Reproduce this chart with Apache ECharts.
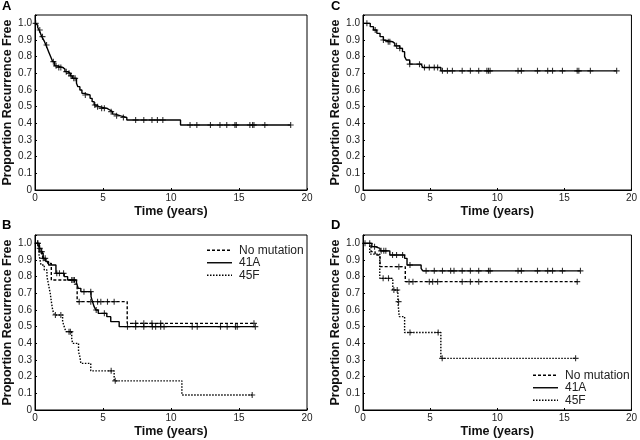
<!DOCTYPE html>
<html>
<head>
<meta charset="utf-8">
<script src="https://cdn.jsdelivr.net/npm/echarts@6/dist/echarts.min.js"></script>
<style>
  html, body { margin: 0; padding: 0; background: #fff; }
  #chart { width: 640px; height: 440px; }
</style>
</head>
<body>
<div id="chart"></div>
<script>
// Panel A - all patients
const aTime = [0, 0.1, 0.2, 0.3, 0.4, 0.5, 0.6, 0.7, 0.8, 0.9, 1.0, 1.1, 1.2, 1.3, 1.45, 1.6, 2.05, 2.2, 2.4, 2.6, 2.75, 3.05, 3.15, 3.3, 3.45, 3.6, 4.05, 4.2, 4.35, 4.5, 4.7, 5.3, 5.5, 5.7, 5.9, 6.3, 6.75, 10.7, 18.8]
const aSurv = [1.0, 0.99, 0.975, 0.96, 0.94, 0.92, 0.905, 0.89, 0.87, 0.85, 0.83, 0.81, 0.79, 0.77, 0.745, 0.735, 0.725, 0.71, 0.70, 0.685, 0.67, 0.64, 0.62, 0.60, 0.58, 0.57, 0.55, 0.53, 0.51, 0.50, 0.49, 0.48, 0.47, 0.455, 0.445, 0.435, 0.42, 0.39, 0.39]
const aCens = [0.05, 0.35, 0.55, 0.85, 1.35, 1.55, 1.75, 1.9, 2.3, 2.5, 2.65, 2.85, 2.95, 3.7, 4.4, 4.6, 4.9, 5.1, 5.6, 6.0, 6.5, 7.4, 8.0, 8.6, 9.0, 9.4, 11.4, 11.9, 12.9, 13.6, 14.1, 14.7, 14.8, 15.8, 16.0, 16.1, 16.9, 18.8]

// Panel C
const cTime = [0, 0.54, 0.78, 1.03, 1.27, 1.52, 1.64, 2.2, 2.37, 2.74, 2.94, 3.1, 3.23, 3.48, 4.33, 4.45, 5.8, 18.9]
const cSurv = [1.0, 0.98, 0.96, 0.94, 0.92, 0.90, 0.89, 0.88, 0.865, 0.85, 0.83, 0.80, 0.78, 0.755, 0.745, 0.735, 0.715, 0.715]
const cCens = [0.29, 0.91, 1.52, 1.88, 2.0, 2.5, 2.74, 3.48, 4.21, 4.58, 4.94, 5.31, 5.56, 5.92, 6.29, 6.66, 7.39, 8.0, 8.62, 9.23, 9.35, 9.47, 11.55, 11.8, 13.0, 13.76, 14.12, 14.86, 15.96, 16.08, 16.94, 18.9]

// Panel B - by genotype
const bNoTime = [0, 0.3, 0.56, 0.93, 1.2, 2.9, 3.1, 6.78, 16.1]
const bNoSurv = [1.0, 0.95, 0.90, 0.88, 0.78, 0.755, 0.65, 0.52, 0.52]
const bNoCens = [0.2, 0.5, 3.25, 4.1, 4.6, 4.84, 5.33, 5.82, 7.4, 8.0, 8.6, 9.24, 16.1]

const b41Time = [0, 0.3, 0.45, 0.6, 0.8, 1.0, 1.54, 2.15, 2.4, 3.05, 3.18, 3.37, 4.12, 4.23, 4.35, 4.47, 4.65, 5.28, 5.57, 6.19, 16.2]
const b41Surv = [1.0, 0.97, 0.94, 0.91, 0.89, 0.87, 0.82, 0.80, 0.78, 0.76, 0.73, 0.71, 0.68, 0.65, 0.62, 0.60, 0.58, 0.56, 0.53, 0.50, 0.50]
const b41Cens = [0.35, 0.6, 0.75, 1.6, 1.8, 2.1, 2.7, 2.8, 2.9, 3.6, 4.1, 4.5, 5.1, 6.8, 7.4, 8.0, 8.63, 8.87, 9.24, 9.49, 11.56, 11.93, 13.64, 14.13, 14.74, 14.87, 16.2]

const b45Time = [0, 0.3, 0.44, 0.68, 0.88, 1.0, 1.12, 1.22, 1.3, 1.42, 2.03, 2.15, 2.27, 2.7, 2.76, 3.2, 3.3, 3.37, 4.1, 5.82, 10.8, 15.97]
const b45Surv = [1.0, 0.93, 0.87, 0.84, 0.80, 0.75, 0.70, 0.64, 0.60, 0.57, 0.53, 0.50, 0.47, 0.43, 0.40, 0.35, 0.32, 0.28, 0.235, 0.175, 0.09, 0.09]
const b45Cens = [0.2, 1.5, 1.9, 2.5, 2.6, 5.6, 5.9, 15.97]

// Panel D
const dNoTime = [0, 0.6, 0.9, 1.27, 3.15, 16.0]
const dNoSurv = [1.0, 0.95, 0.93, 0.86, 0.77, 0.77]
const dNoCens = [0.5, 2.67, 3.43, 3.72, 4.94, 5.19, 5.56, 7.39, 8.0, 8.62, 15.96]

const d41Time = [0, 0.66, 0.9, 1.27, 2.0, 3.1, 3.28, 4.33, 4.45, 16.2]
const d41Surv = [1.0, 0.98, 0.97, 0.955, 0.93, 0.91, 0.87, 0.85, 0.835, 0.835]
const d41Cens = [0.15, 0.86, 1.35, 1.55, 1.7, 2.2, 2.5, 2.95, 3.5, 4.7, 5.31, 5.92, 6.53, 6.78, 7.39, 8.0, 8.62, 9.35, 9.47, 11.55, 11.8, 13.0, 13.76, 14.12, 14.86, 16.2]

const d45Time = [0, 0.5, 1.25, 2.22, 2.6, 2.7, 3.1, 5.8, 15.84]
const d45Surv = [1.0, 0.935, 0.79, 0.72, 0.65, 0.56, 0.465, 0.31, 0.31]
const d45Cens = [1.5, 1.9, 2.3, 2.55, 2.65, 3.5, 5.6, 5.9, 15.84]

const groupNames = ['No mutation', '41A', '45F']
const panelLetters = ['A', 'C', 'B', 'D']
const xTicks = [0, 20, 5] // min, max, interval
const yTicks = [0, 1.05, 0.1]

const FONT = 'Liberation Sans, Arial, sans-serif'
const PLUS = 'path://M0,5L10,5M5,0L5,10'

// grid boxes: A, C, B, D
const grids = [
  { left: 34, top: 15, width: 273, height: 175 },
  { left: 363, top: 15, width: 272, height: 175 },
  { left: 34, top: 235, width: 273, height: 175 },
  { left: 363, top: 235, width: 272, height: 175 },
]

// survival value at time t (step function)
function survAt(times, surv, t) {
  let v = surv[0]
  for (let i = 0; i < times.length; i++) {
    if (times[i] <= t + 1e-9) v = surv[i]
  }
  return v
}

const lineTypes = {
  'No mutation': [3, 2],
  '41A': 'solid',
  '45F': [1.5, 1.5],
}

// legend icons drawn as little strokes so dash patterns show
const legendIcons = {
  'No mutation': 'path://M0,0h3v1.4h-3zM5,0h3v1.4h-3zM10,0h3v1.4h-3zM15,0h3v1.4h-3zM20,0h3v1.4h-3zM25,0h0v1.4h0z',
  '41A': 'path://M0,0h25v1.4h-25z',
  '45F': 'path://M0,0h1.5v1.4h-1.5zM3,0h1.5v1.4h-1.5zM6,0h1.5v1.4h-1.5zM9,0h1.5v1.4h-1.5zM12,0h1.5v1.4h-1.5zM15,0h1.5v1.4h-1.5zM18,0h1.5v1.4h-1.5zM21,0h1.5v1.4h-1.5zM24,0h1v1.4h-1z',
}

function curve(idx, name, times, surv, cens, type) {
  return [
    {
      name: name,
      type: 'line',
      step: 'end',
      xAxisIndex: idx,
      yAxisIndex: idx,
      symbol: 'none',
      data: times.map((t, i) => [t, surv[i]]),
      lineStyle: { color: '#000', width: 1.4, type: type },
      itemStyle: { color: '#000' },
      z: 2,
    },
    {
      type: 'scatter',
      xAxisIndex: idx,
      yAxisIndex: idx,
      symbol: PLUS,
      symbolSize: 6,
      data: cens.map((t) => [t, survAt(times, surv, t)]),
      itemStyle: { color: 'rgba(0,0,0,0)', borderColor: '#000', borderWidth: 1.1 },
      z: 3,
    },
  ]
}

const series = [
  ...curve(0, 'all', aTime, aSurv, aCens, 'solid'),
  ...curve(1, 'all2', cTime, cSurv, cCens, 'solid'),
  ...curve(2, 'No mutation', bNoTime, bNoSurv, bNoCens, lineTypes['No mutation']),
  ...curve(2, '41A', b41Time, b41Surv, b41Cens, lineTypes['41A']),
  ...curve(2, '45F', b45Time, b45Surv, b45Cens, lineTypes['45F']),
  ...curve(3, 'No mutation', dNoTime, dNoSurv, dNoCens, lineTypes['No mutation']),
  ...curve(3, '41A', d41Time, d41Surv, d41Cens, lineTypes['41A']),
  ...curve(3, '45F', d45Time, d45Surv, d45Cens, lineTypes['45F']),
]

const axisText = { color: '#222', fontSize: 10, fontFamily: FONT }
const nameText = { color: '#111', fontSize: 12.5, fontWeight: 'bold', fontFamily: FONT }

const xAxis = grids.map((g, i) => ({
  type: 'value',
  gridIndex: i,
  min: xTicks[0],
  max: xTicks[1],
  interval: xTicks[2],
  name: 'Time (years)',
  nameLocation: 'middle',
  nameGap: 15,
  nameTextStyle: nameText,
  axisLine: { show: true, lineStyle: { color: '#000', width: 1 } },
  axisTick: { show: true, inside: true, length: 2, lineStyle: { color: '#000' } },
  axisLabel: { ...axisText, margin: 3 },
  splitLine: { show: false },
}))

const yAxis = grids.map((g, i) => ({
  type: 'value',
  gridIndex: i,
  min: yTicks[0],
  max: yTicks[1],
  interval: yTicks[2],
  name: 'Proportion Recurrence Free',
  nameLocation: 'middle',
  nameGap: 21,
  nameTextStyle: nameText,
  axisLine: { show: true, lineStyle: { color: '#000', width: 1 } },
  axisTick: { show: true, inside: true, length: 2, lineStyle: { color: '#000' } },
  axisLabel: {
    ...axisText,
    margin: 3,
    formatter: function (v) {
      if (v > 1.0001) return ''
      return v === 0 ? '0' : v.toFixed(1)
    },
  },
  splitLine: { show: false },
}))

const titlePos = [
  { left: 2, top: 0 },
  { left: 331, top: 0 },
  { left: 2, top: 219 },
  { left: 331, top: 219 },
]

const legendStyle = {
  orient: 'vertical',
  data: groupNames.map((n) => ({ name: n, icon: legendIcons[n] })),
  itemWidth: 25,
  itemHeight: 1.4,
  itemGap: 0,
  padding: 0,
  textStyle: { color: '#222', fontSize: 12, lineHeight: 12.5, fontFamily: FONT, padding: [0, 0, 0, 2] },
  selectedMode: false,
}

const chart = echarts.init(document.getElementById('chart'), null, { renderer: 'canvas' })
chart.setOption({
  backgroundColor: '#fff',
  animation: false,
  title: panelLetters.map((t, i) => ({
    text: t,
    left: titlePos[i].left,
    top: titlePos[i].top,
    padding: 0,
    textStyle: { fontSize: 13, fontWeight: 'bold', color: '#000', fontFamily: FONT },
  })),
  legend: [
    { ...legendStyle, left: 207, top: 244 },
    { ...legendStyle, left: 533, top: 369 },
  ],
  grid: grids.map((g) => ({ ...g, show: true, borderColor: '#000', borderWidth: 1, containLabel: false })),
  xAxis: xAxis,
  yAxis: yAxis,
  series: series,
})
</script>
</body>
</html>
